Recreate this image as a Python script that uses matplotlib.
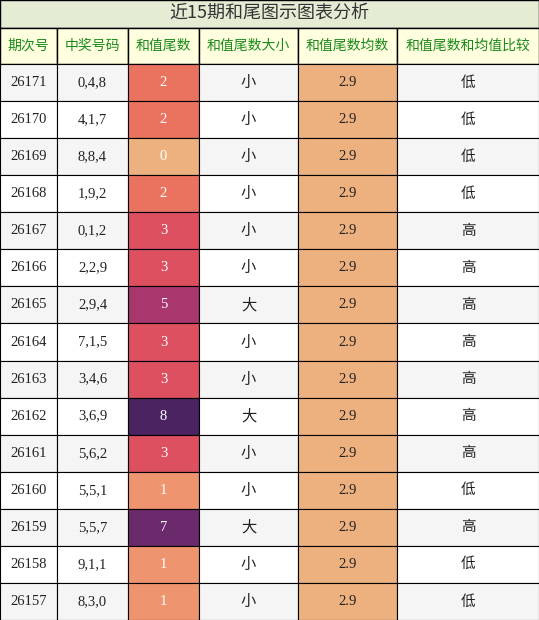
import matplotlib.pyplot as plt
from matplotlib.patches import Rectangle

plt.rcParams['font.family'] = ['Noto Sans CJK SC', 'DejaVu Sans']

title = '近15期和尾图示图表分析'
headers = ['期次号', '中奖号码', '和值尾数', '和值尾数大小', '和值尾数均数', '和值尾数和均值比较']
issues = ['26171', '26170', '26169', '26168', '26167', '26166', '26165', '26164',
          '26163', '26162', '26161', '26160', '26159', '26158', '26157']
numbers = ['0,4,8', '4,1,7', '8,8,4', '1,9,2', '0,1,2', '2,2,9', '2,9,4', '7,1,5',
           '3,4,6', '3,6,9', '5,6,2', '5,5,1', '5,5,7', '9,1,1', '8,3,0']
tails = [2, 2, 0, 2, 3, 3, 5, 3, 3, 8, 3, 1, 7, 1, 1]
sizes = ['小', '小', '小', '小', '小', '小', '大', '小', '小', '大', '小', '小', '大', '小', '小']
avg = 2.9
compare = ['低', '低', '低', '低', '高', '高', '高', '高', '高', '高', '高', '低', '高', '低', '低']

tail_colors = {0: '#EDB07F', 1: '#EE9570', 2: '#E9735F', 3: '#DC5060',
               5: '#A8376E', 7: '#6A2A6C', 8: '#4A2360'}

W, H = 539, 620
cols = [0, 57, 128, 199, 298, 397, 539]
title_h = 28
head_h = 36
row_h = (H - title_h - head_h) / len(issues)

fig = plt.figure(figsize=(W / 100, H / 100), dpi=100)
ax = fig.add_axes([0, 0, 1, 1])
ax.set_xlim(0, W)
ax.set_ylim(H, 0)
ax.axis('off')

ax.add_patch(Rectangle((0, 0), W, title_h, facecolor='#E4ECD4', edgecolor='black', lw=1))
ax.text(W / 2, title_h / 2, title, ha='center', va='center', fontsize=13, color='#333333')

for j, h in enumerate(headers):
    x0, x1 = cols[j], cols[j + 1]
    ax.add_patch(Rectangle((x0, title_h), x1 - x0, head_h, facecolor='#FFFFE0', edgecolor='black', lw=1))
    ax.text((x0 + x1) / 2, title_h + head_h / 2, h, ha='center', va='center', fontsize=10, color='#1A8A1A')

serif = ['Liberation Serif', 'DejaVu Serif']
for i in range(len(issues)):
    y0 = title_h + head_h + i * row_h
    bg = '#F5F5F5' if i % 2 == 0 else 'white'
    vals = [issues[i], numbers[i], str(tails[i]), sizes[i], f'{avg}', compare[i]]
    for j, v in enumerate(vals):
        x0, x1 = cols[j], cols[j + 1]
        fc = bg
        tc = '#222222'
        if j == 2:
            fc = tail_colors[tails[i]]
            tc = 'white'
        elif j == 4:
            fc = '#EDB07F'
        ax.add_patch(Rectangle((x0, y0), x1 - x0, row_h, facecolor=fc, edgecolor='black', lw=0.8))
        fam = serif if j in (0, 1, 2, 4) else ['Noto Sans CJK SC', 'DejaVu Sans']
        fs = 11 if j == 3 else 10.5
        ax.text((x0 + x1) / 2, y0 + row_h / 2, v, ha='center', va='center',
                fontsize=fs, color=tc, family=fam)

fig.savefig('out.png', dpi=100)
